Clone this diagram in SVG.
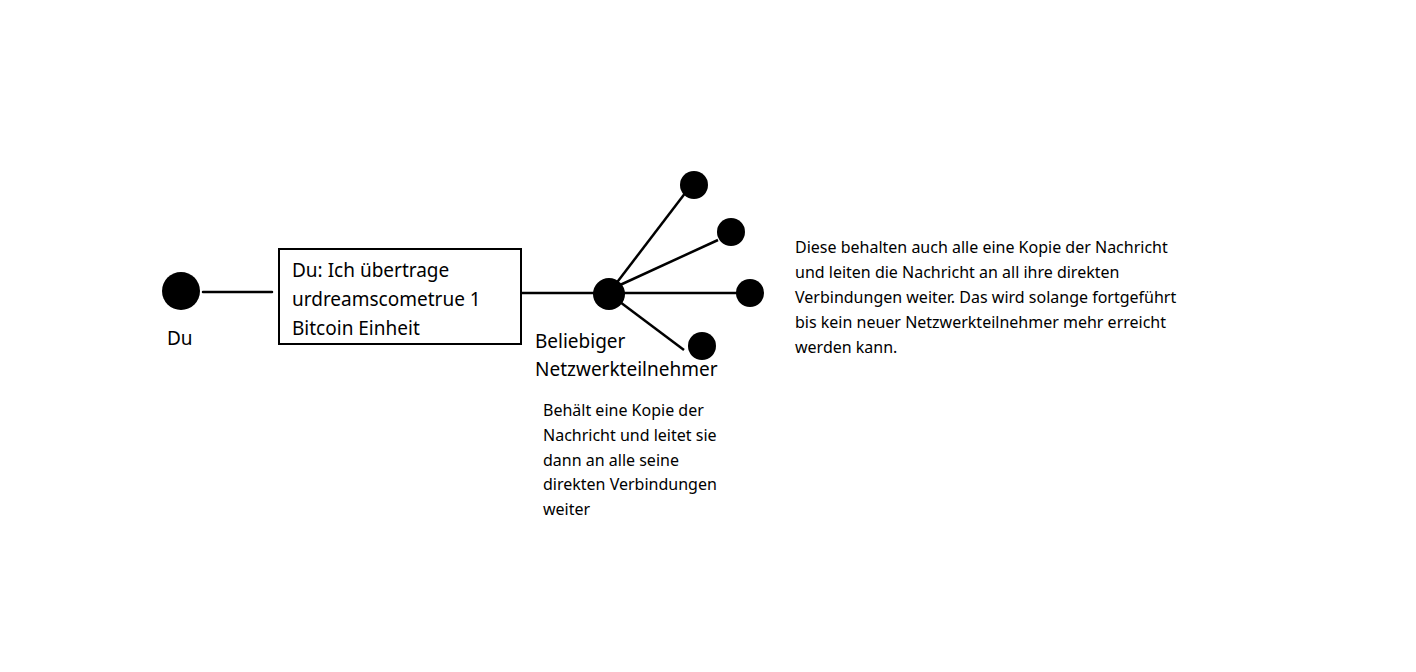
<svg xmlns="http://www.w3.org/2000/svg" width="1416" height="672" viewBox="0 0 1416 672">
<style>
text{font-family:"Noto Sans","Open Sans",sans-serif;fill:#000}
.l{font-size:19px}.s{font-size:16px}
.dot{fill:#000}
.c{stroke:#000;stroke-width:2.5;fill:none}
</style>
<rect width="1416" height="672" fill="#fff"/>
<g id="connectors">
<line class="c" x1="203" y1="292" x2="272" y2="292" stroke-width="6" stroke-linecap="round"/>
<line class="c" x1="521" y1="293" x2="600" y2="293"/>
<line class="c" x1="615" y1="285" x2="686" y2="192"/>
<line class="c" x1="620" y1="285" x2="718" y2="240"/>
<line class="c" x1="620" y1="293" x2="737" y2="293"/>
<line class="c" x1="620" y1="302" x2="684" y2="350"/>
</g>
<g id="du"><circle class="dot" cx="181" cy="291" r="19"/><text class="l" x="167" y="345">Du</text></g>
<g id="msg"><rect x="279" y="249" width="242" height="95" fill="#fff" stroke="#000" stroke-width="2"/>
<text class="l" x="292" y="277">Du: Ich übertrage</text><text class="l" x="292" y="306">urdreamscometrue 1</text><text class="l" x="292" y="335">Bitcoin Einheit</text></g>
<g id="hub"><circle class="dot" cx="609" cy="294" r="16"/>
<text class="l" x="535" y="348">Beliebiger</text><text class="l" x="535" y="376">Netzwerkteilnehmer</text>
<text class="s" x="543" y="416">Behält eine Kopie der</text><text class="s" x="543" y="441">Nachricht und leitet sie</text><text class="s" x="543" y="466">dann an alle seine</text><text class="s" x="543" y="490">direkten Verbindungen</text><text class="s" x="543" y="515">weiter</text></g>
<g id="n1"><circle class="dot" cx="694" cy="185" r="14"/></g>
<g id="n2"><circle class="dot" cx="731" cy="232" r="14"/></g>
<g id="n3"><circle class="dot" cx="750" cy="293" r="14"/></g>
<g id="n4"><circle class="dot" cx="702" cy="346" r="14"/></g>
<g id="note">
<text class="s" x="795" y="253">Diese behalten auch alle eine Kopie der Nachricht</text>
<text class="s" x="795" y="278">und leiten die Nachricht an all ihre direkten</text>
<text class="s" x="795" y="303">Verbindungen weiter. Das wird solange fortgeführt</text>
<text class="s" x="795" y="328">bis kein neuer Netzwerkteilnehmer mehr erreicht</text>
<text class="s" x="795" y="353">werden kann.</text>
</g>
</svg>
